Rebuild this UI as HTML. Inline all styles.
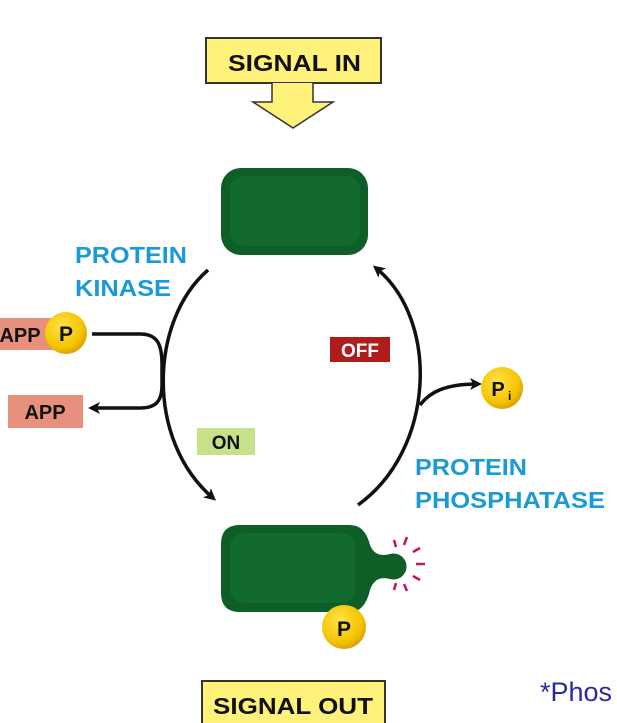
<!DOCTYPE html>
<html><head><style>
body{margin:0;background:#fff;}
svg{display:block;}
text{font-family:"Liberation Sans",sans-serif;font-weight:bold;}
</style></head><body>
<svg width="617" height="723" viewBox="0 0 617 723">
<defs>
<marker id="ah" markerWidth="12" markerHeight="12" refX="8" refY="6" orient="auto" markerUnits="userSpaceOnUse"><path d="M0,0 L12,6 L0,12 L3,6 Z" fill="#111"/></marker>
<radialGradient id="gold" cx="0.4" cy="0.35" r="0.7"><stop offset="0" stop-color="#ffe24a"/><stop offset="0.7" stop-color="#f5c400"/><stop offset="1" stop-color="#d99a00"/></radialGradient>
</defs>
<rect x="206" y="38" width="175" height="45" fill="#fff27a" stroke="#333" stroke-width="2"/>
<text x="228" y="71" font-size="23" textLength="133" lengthAdjust="spacingAndGlyphs" fill="#111">SIGNAL IN</text>
<path d="M272,83 L272,102 L253,102 L293,128 L333,102 L313,102 L313,83" fill="#fff27a" stroke="#333" stroke-width="1.5"/>
<rect x="221" y="168" width="147" height="87" rx="20" fill="#0e5e28"/>
<rect x="230" y="176" width="130" height="70" rx="14" fill="#136a2f"/>
<path d="M208,270 C150,320 145,440 213,498" fill="none" stroke="#111" stroke-width="3.5" marker-end="url(#ah)"/>
<path d="M358,505 C435,450 440,320 376,268" fill="none" stroke="#111" stroke-width="3.5" marker-end="url(#ah)"/>
<text x="75" y="263" font-size="23" textLength="112" lengthAdjust="spacingAndGlyphs" fill="#1a9ad6">PROTEIN</text>
<text x="75" y="296" font-size="23" textLength="96" lengthAdjust="spacingAndGlyphs" fill="#1a9ad6">KINASE</text>
<rect x="-5" y="318" width="75" height="32" fill="#e8907e"/>
<text x="20" y="342" font-size="20" fill="#111" text-anchor="middle">APP</text>
<circle cx="66" cy="333" r="21" fill="url(#gold)"/>
<text x="66" y="341" font-size="21" fill="#111" text-anchor="middle">P</text>
<path d="M92,334 L140,334 C158,334 162,345 162,365 L162,385 C162,402 155,408 140,408 L92,408" fill="none" stroke="#111" stroke-width="3.5" marker-end="url(#ah)"/>
<rect x="8" y="395" width="75" height="33" fill="#e8907e"/>
<text x="45" y="419" font-size="20" fill="#111" text-anchor="middle">APP</text>
<rect x="330" y="337" width="60" height="25" fill="#b01b1b"/>
<text x="360" y="357" font-size="19" fill="#fff" text-anchor="middle">OFF</text>
<rect x="197" y="428" width="58" height="27" fill="#c7e08a"/>
<text x="226" y="449" font-size="19" fill="#111" text-anchor="middle">ON</text>
<path d="M420,405 C430,392 445,384 478,384" fill="none" stroke="#111" stroke-width="3.5" marker-end="url(#ah)"/>
<circle cx="502" cy="388" r="21" fill="url(#gold)"/>
<text x="498" y="396" font-size="20" fill="#111" text-anchor="middle">P</text>
<text x="508" y="400" font-size="12" fill="#111">i</text>
<text x="415" y="475" font-size="23" textLength="112" lengthAdjust="spacingAndGlyphs" fill="#1a9ad6">PROTEIN</text>
<text x="415" y="508" font-size="23" textLength="190" lengthAdjust="spacingAndGlyphs" fill="#1a9ad6">PHOSPHATASE</text>
<path d="M240,525 L350,525 Q365,525 370,545 Q375,558 390,554 A13,13 0 1 1 390,579 Q375,575 370,590 Q365,612 350,612 L240,612 Q221,612 221,593 L221,544 Q221,525 240,525 Z" fill="#0e5e28"/>
<rect x="230" y="533" width="125" height="70" rx="14" fill="#136a2f"/>
<g stroke="#c0166a" stroke-width="2.5">
<line x1="394" y1="540" x2="396" y2="547"/><line x1="407" y1="537" x2="404" y2="545"/>
<line x1="420" y1="548" x2="413" y2="552"/><line x1="425" y1="564" x2="416" y2="564"/>
<line x1="420" y1="580" x2="413" y2="576"/><line x1="407" y1="591" x2="404" y2="584"/>
<line x1="394" y1="590" x2="396" y2="583"/>
</g>
<circle cx="344" cy="627" r="22" fill="url(#gold)"/>
<text x="344" y="636" font-size="21" fill="#111" text-anchor="middle">P</text>
<rect x="202" y="681" width="183" height="45" fill="#fff27a" stroke="#333" stroke-width="2"/>
<text x="213" y="714" font-size="23" textLength="160" lengthAdjust="spacingAndGlyphs" fill="#111">SIGNAL OUT</text>
<text x="540" y="701" font-size="27" fill="#2a2a9a" style="font-weight:normal">*Phos</text>
</svg>
</body></html>
